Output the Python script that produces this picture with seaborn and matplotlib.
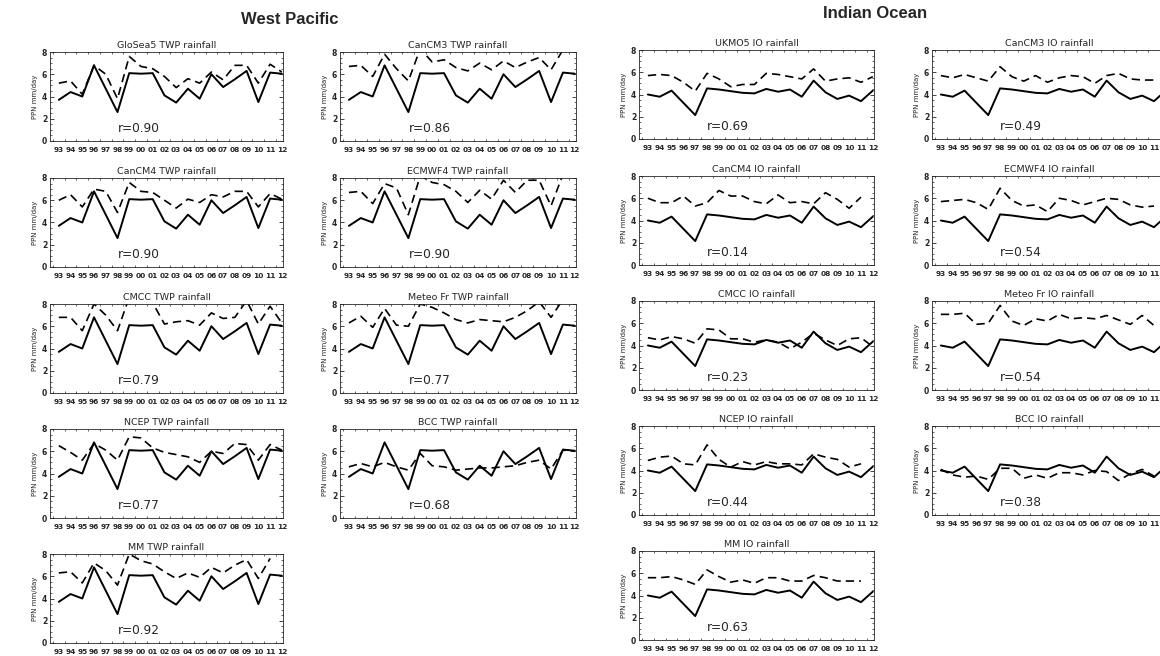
import numpy as np
import pandas as pd
import matplotlib
matplotlib.use("Agg")
import matplotlib.pyplot as plt
from matplotlib.ticker import MultipleLocator
import seaborn as sns

# ---------------------------------------------------------------- data
years = ["93", "94", "95", "96", "97", "98", "99", "00", "01", "02",
         "03", "04", "05", "06", "07", "08", "09", "10", "11", "12"]

# observed seasonal rainfall (mm/day)
obs_twp = [3.7, 4.4, 4.0, 6.8, 4.7, 2.6, 6.1, 6.05, 6.1, 4.1,
           3.45, 4.7, 3.8, 6.0, 4.85, 5.55, 6.3, 3.5, 6.15, 6.05]
obs_io = [4.0, 3.8, 4.35, 3.25, 2.15, 4.55, 4.45, 4.3, 4.15, 4.1,
          4.5, 4.25, 4.45, 3.8, 5.25, 4.2, 3.6, 3.9, 3.4, 4.35]

nan = np.nan
# West Pacific hindcasts
twp_glosea5 = [5.2, 5.4, 4.2, 6.8, 6.0, 3.8, 7.6, 6.7, 6.5, 5.8,
               4.8, 5.6, 5.2, 6.2, 5.5, 6.8, 6.8, 5.2, 6.9, 6.2]
twp_cancm3 = [6.7, 6.8, 5.8, 7.8, 6.5, 5.4, 8.3, 7.1, 7.3, 6.6,
              6.3, 7.0, 6.4, 7.2, 6.6, 7.1, 7.5, 6.4, 8.2, 8.6]
twp_cancm4 = [6.0, 6.5, 5.4, 7.0, 6.8, 4.9, 7.6, 6.8, 6.7, 6.0,
              5.3, 6.1, 5.8, 6.5, 6.3, 6.8, 6.8, 5.4, 6.6, 6.1]
twp_ecmwf4 = [6.7, 6.8, 5.7, 7.5, 7.1, 4.7, 8.2, 7.6, 7.4, 6.8,
              5.8, 6.9, 6.1, 7.8, 6.7, 7.8, 7.8, 5.5, 8.3, 8.5]
twp_cmcc = [6.8, 6.8, 5.6, 8.0, 7.0, 5.6, 8.6, 8.4, 8.1, 6.2,
            6.4, 6.5, 6.1, 7.2, 6.7, 6.8, 8.3, 6.2, 7.8, 6.3]
twp_meteofr = [6.3, 6.9, 5.9, 7.6, 6.1, 6.0, 8.0, 7.7, 7.2, 6.6,
               6.3, 6.6, 6.5, 6.4, 6.8, 7.4, 8.2, 6.8, 8.4, 8.6]
twp_ncep = [6.5, 5.9, 5.2, 6.7, 6.1, 5.2, 7.3, 7.2, 6.3, 5.9,
            5.7, 5.5, 5.0, 6.0, 5.8, 6.7, 6.6, 5.2, 6.6, 6.1]
twp_bcc = [4.6, 4.9, 4.6, 5.0, 4.6, 4.3, 5.8, 4.7, 4.6, 4.3,
           4.4, 4.5, 4.5, 4.6, 4.7, 5.0, 5.2, 4.4, 6.1, 6.0]
twp_mm = [6.3, 6.4, 5.4, 7.2, 6.5, 5.2, 8.0, 7.4, 7.1, 6.4,
          5.8, 6.3, 5.9, 6.8, 6.3, 7.0, 7.5, 5.8, 7.6, nan]

# Indian Ocean hindcasts
io_ukmo5 = [5.7, 5.8, 5.7, 5.1, 4.3, 5.9, 5.4, 4.7, 4.9, 4.9,
            5.9, 5.8, 5.6, 5.4, 6.3, 5.2, 5.4, 5.5, 5.1, 5.6]
io_cancm3 = [5.7, 5.5, 5.8, 5.5, 5.2, 6.5, 5.6, 5.2, 5.7, 5.1,
             5.5, 5.7, 5.6, 5.0, 5.7, 5.9, 5.4, 5.3, 5.3, nan]
io_cancm4 = [6.0, 5.6, 5.6, 6.2, 5.3, 5.6, 6.7, 6.2, 6.2, 5.7,
             5.5, 6.3, 5.6, 5.7, 5.5, 6.5, 5.9, 5.1, 6.1, nan]
io_ecmwf4 = [5.7, 5.8, 5.9, 5.6, 5.0, 6.9, 5.8, 5.3, 5.4, 4.8,
             6.0, 5.8, 5.4, 5.7, 6.0, 5.9, 5.4, 5.2, 5.3, nan]
io_cmcc = [4.7, 4.5, 4.8, 4.6, 4.2, 5.5, 5.4, 4.6, 4.6, 4.3,
           4.5, 4.3, 3.7, 4.3, 5.1, 4.5, 4.0, 4.6, 4.7, 3.9]
io_meteofr = [6.8, 6.8, 6.9, 5.9, 6.0, 7.6, 6.2, 5.8, 6.4, 6.2,
              6.8, 6.4, 6.5, 6.4, 6.7, 6.3, 5.9, 6.7, 5.8, nan]
io_ncep = [4.9, 5.2, 5.3, 4.6, 4.5, 6.3, 5.0, 4.3, 4.8, 4.5,
           4.8, 4.6, 4.6, 4.5, 5.5, 5.2, 5.0, 4.3, 4.6, nan]
io_bcc = [4.1, 3.6, 3.4, 3.5, 3.2, 4.2, 4.2, 3.3, 3.6, 3.3,
          3.8, 3.8, 3.6, 4.0, 3.9, 3.1, 3.7, 4.1, 3.5, nan]
io_mm = [5.6, 5.6, 5.7, 5.4, 5.0, 6.3, 5.7, 5.2, 5.4, 5.1,
         5.6, 5.6, 5.3, 5.3, 5.8, 5.6, 5.3, 5.3, 5.3, nan]

twp_titles = ["GloSea5 TWP rainfall", "CanCM3 TWP rainfall", "CanCM4 TWP rainfall",
              "ECMWF4 TWP rainfall", "CMCC TWP rainfall", "Meteo Fr TWP rainfall",
              "NCEP TWP rainfall", "BCC TWP rainfall", "MM TWP rainfall"]
twp_r = ["0.90", "0.86", "0.90", "0.90", "0.79", "0.77", "0.77", "0.68", "0.92"]
twp_models = [twp_glosea5, twp_cancm3, twp_cancm4, twp_ecmwf4, twp_cmcc,
              twp_meteofr, twp_ncep, twp_bcc, twp_mm]

io_titles = ["UKMO5 IO rainfall", "CanCM3 IO rainfall", "CanCM4 IO rainfall",
             "ECMWF4 IO rainfall", "CMCC IO rainfall", "Meteo Fr IO rainfall",
             "NCEP IO rainfall", "BCC IO rainfall", "MM IO rainfall"]
io_r = ["0.69", "0.49", "0.14", "0.54", "0.23", "0.54", "0.44", "0.38", "0.63"]
io_models = [io_ukmo5, io_cancm3, io_cancm4, io_ecmwf4, io_cmcc,
             io_meteofr, io_ncep, io_bcc, io_mm]

# ---------------------------------------------------------------- style
sns.set_style("ticks")
plt.rcParams["font.family"] = ["DejaVu Sans"]

W, H = 1160, 656
fig = plt.figure(figsize=(W / 100, H / 100), dpi=100)

idx = np.arange(len(years))
PANEL_H = 89


def panel(left, bottom, width, title, obs, model, r):
    ax = fig.add_axes([left / W, 1 - bottom / H, width / W, PANEL_H / H])
    df = pd.DataFrame({"year": idx, "obs": obs, "model": model})
    sns.lineplot(data=df, x="year", y="obs", ax=ax, color="black", lw=1.4)
    sns.lineplot(data=df.dropna(), x="year", y="model", ax=ax, color="black",
                 lw=1.2, linestyle=(0, (5, 3)))
    ax.set_xlim(-0.75, 19.1)
    ax.set_ylim(0, 8)
    ax.set_xticks(idx)
    ax.set_xticklabels(years, fontsize=5.3, fontweight="bold")
    ax.set_yticks([0, 2, 4, 6, 8])
    ax.set_yticklabels(["0", "2", "4", "6", "8"], fontsize=5.5, fontweight="bold")
    ax.xaxis.set_minor_locator(MultipleLocator(0.5))
    ax.yaxis.set_minor_locator(MultipleLocator(0.5))
    ax.tick_params(which="major", direction="in", top=True, right=True,
                   length=3, width=0.6, pad=2)
    ax.tick_params(which="minor", direction="in", top=True, right=True,
                   length=1.5, width=0.5)
    ax.tick_params(axis="x", which="major", length=0, pad=4)
    for s in ax.spines.values():
        s.set_linewidth(0.6)
    ax.set_xlabel("")
    ax.set_ylabel("PPN mm/day", fontsize=5, labelpad=3)
    ax.set_title(title, fontsize=6.8, pad=3)
    ax.text(0.29, 0.145, "r=" + r, transform=ax.transAxes, fontsize=8.7,
            va="center", ha="left")
    return ax


twp_left = [50, 340]
io_left = [639, 932]
twp_bottom = [141, 267, 393, 518, 643]
io_bottom = [139, 265, 390, 515, 640]
twp_w = [233, 236]
io_w = [235, 235]

for k in range(9):
    row, col = divmod(k, 2)
    panel(twp_left[col], twp_bottom[row], twp_w[col], twp_titles[k],
          obs_twp, twp_models[k], twp_r[k])
    panel(io_left[col], io_bottom[row], io_w[col], io_titles[k],
          obs_io, io_models[k], io_r[k])

fig.text(290 / W, 1 - 20 / H, "West Pacific", ha="center", va="center",
         fontsize=12, fontweight="bold", family="Liberation Sans")
fig.text(875 / W, 1 - 14 / H, "Indian Ocean", ha="center", va="center",
         fontsize=12, fontweight="bold", family="Liberation Sans")

fig.savefig("out.png", dpi=100, facecolor="white")
